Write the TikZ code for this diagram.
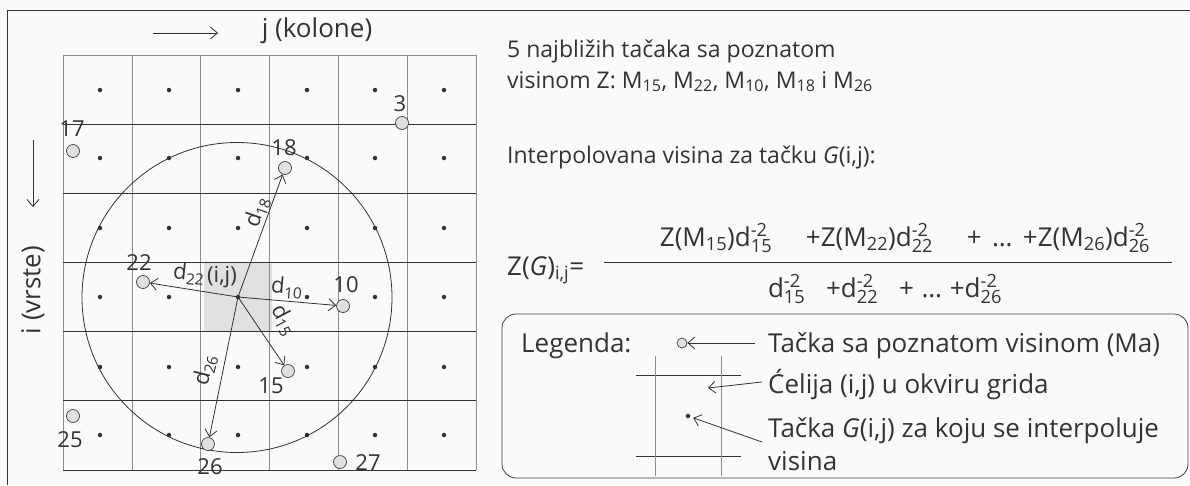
\documentclass[tikz,border=0pt]{standalone}
\usepackage{fontspec}
\setmainfont{Open Sans}
\usetikzlibrary{arrows.meta}
\makeatletter
\newcommand\sbx[1]{\ensuremath{_{\mbox{\fontsize{\sf@size}{0}\selectfont #1}}}}
\newcommand\dsx[2]{d\ensuremath{_{\mbox{\fontsize{\sf@size}{0}\selectfont #1}}^{\mbox{\fontsize{\sf@size}{0}\selectfont #2}}}}
\makeatother
\begin{document}
\begin{tikzpicture}[x=1pt,y=-1pt,
  txt/.style={font=\fontsize{26}{30}\selectfont, text=black!80, inner sep=0pt, anchor=base west},
  toptxt/.style={txt, font=\fontsize{23}{27}\selectfont},
  num/.style={font=\fontsize{22}{24}\selectfont, text=black!80, inner sep=0pt},
  dlab/.style={font=\fontsize{22}{24}\selectfont, text=black!80, inner sep=0pt},
  kp/.style={circle, draw=black!75, fill=black!12, line width=0.7pt, minimum size=13pt, inner sep=0pt},
  gdot/.style={circle, fill=black!80, minimum size=4.5pt, inner sep=0pt},
  arr/.style={-{Straight Barb[length=7pt,width=12pt]}, line width=0.8pt, draw=black!80},
  hline/.style={draw=black!80, line width=0.8pt},
  vline/.style={draw=black!45, line width=0.5pt}]
\useasboundingbox (0,0) rectangle (1190,485);
\fill[black!2] (0,0) rectangle (1190,485);
% outer frame
\draw[black!80, line width=0.8pt] (1190,10) -- (7,10) -- (7,485);
% shaded cell
\fill[black!12] (204,263) rectangle (272,332);
% grid
\foreach \x in {63,131.83,200.67,269.5,338.33,407.17,476} \draw[vline] (\x,55) -- (\x,470);
\draw[vline] (63,55) -- (476,55);
\foreach \y in {124.17,193.33,262.5,331.67,400.83,470} \draw[hline] (63,\y) -- (476,\y);
% dots
\foreach \x in {100,169,238,307,375,444}
  \foreach \y in {90,158,228,297,367,435}
    \node[gdot] at (\x,\y) {};
\coordinate (G) at (238,297);
% range circle
\draw[black!80, line width=0.8pt] (237,297.5) circle[radius=155pt];
% known points
\node[kp] (p3) at (402,123) {};
\node[kp] (p17) at (73,151) {};
\node[kp] (p18) at (285,168) {};
\node[kp] (p22) at (143,282) {};
\node[kp] (p10) at (343,306) {};
\node[kp] (p15) at (288,371) {};
\node[kp] (p25) at (73,416) {};
\node[kp] (p26) at (208,444) {};
\node[kp] (p27) at (340,462) {};
\node[num] (l3) at (400,104) {3};
\node[num] (l17) at (72,129) {17};
\node[num] (l18) at (284,148) {18};
\node[num] (l22) at (139,263) {22};
\node[num] (l10) at (346,285) {10};
\node[num] (l15) at (271,386) {15};
\node[num] (l25) at (70,440) {25};
\node[num] (l26) at (210,467) {26};
\node[num] (l27) at (368,463) {27};
% distance arrows
\draw[arr] (G) -- (p18);
\draw[arr] (G) -- (p22);
\draw[arr] (G) -- (p10);
\draw[arr] (G) -- (p15);
\draw[arr] (G) -- (p26);
\node[dlab, rotate=71] (d18) at (257,212) {d\sbx{18}};
\node[dlab, rotate=-6] (d22) at (189,274) {d\sbx{22}};
\node[dlab] (ij) at (222,277) {(i,j)};
\node[dlab, rotate=-5] (d10) at (287,288) {d\sbx{10}};
\node[dlab, rotate=-62] (d15) at (284,320) {d\sbx{15}};
\node[dlab, rotate=76] (d26) at (205,370) {d\sbx{26}};
% axes
\coordinate (ja) at (153,33);
\coordinate (jb) at (218,33);
\draw[arr] (ja) -- (jb);
\node[txt, anchor=center] (jlab) at (317,31) {j (kolone)};
\coordinate (ia) at (33,140);
\coordinate (ib) at (33,207);
\draw[arr] (ia) -- (ib);
\node[txt, anchor=center, rotate=90] (ilab) at (33,290) {i (vrste)};
% right text
\node[toptxt] (t1) at (507,57) {5 najbližih tačaka sa poznatom};
\node[toptxt] (t2) at (507,88) {visinom Z: M\sbx{15}, M\sbx{22}, M\sbx{10}, M\sbx{18} i M\sbx{26}};
\node[toptxt] (t3) at (507,163) {Interpolovana visina za tačku \textit{G}(i,j):};
% formula
\node[txt] (zg) at (507,275) {Z(\textit{G})\sbx{i,j}=};
\coordinate (fa) at (604,262);
\coordinate (fb) at (1172,262);
\draw[black!80, line width=0.8pt] (fa) -- (fb);
\node[txt, anchor=base] (numr) at (905,246) {Z(M\sbx{15})\dsx{15}{-2}\hspace{1.3em}+Z(M\sbx{22})\dsx{22}{-2}\hspace{1.3em}+\hspace{0.4em}\dots\hspace{0.4em}+Z(M\sbx{26})\dsx{26}{-2}};
\node[txt, anchor=base] (denr) at (885,297) {\dsx{15}{-2}\hspace{0.8em}+\dsx{22}{-2}\hspace{0.8em}+\hspace{0.3em}\dots\hspace{0.3em}+\dsx{26}{-2}};
% legend
\node[draw=black!75, line width=0.8pt, rounded corners=14pt, minimum width=686pt, minimum height=164pt] (leg) at (845,396) {};
\node[txt] (lg) at (521,352) {Legenda:};
\node[kp, minimum size=10pt] (lc) at (682,343) {};
\coordinate (lca) at (755,343);
\draw[arr] (lca) -- (lc);
\node[txt] (lt1) at (768,352) {Tačka sa poznatom visinom (Ma)};
\draw[hline] (636,375) -- (741,375);
\draw[hline] (636,456) -- (741,456);
\draw[vline] (655,356) -- (655,476);
\draw[vline] (721,356) -- (721,476);
\coordinate (cellpt) at (708,388);
\coordinate (cella) at (762,382);
\draw[arr] (cella) -- (cellpt);
\node[txt] (lt2) at (768,393) {Ćelija (i,j) u okviru grida};
\node[gdot] (ldot) at (688,416) {};
\coordinate (dota) at (762,442);
\draw[arr, shorten >=3pt] (dota) -- (ldot);
\node[txt] (lt3) at (768,437) {Tačka \textit{G}(i,j) za koju se interpoluje};
\node[txt] (lt4) at (768,470) {visina};
\end{tikzpicture}
\end{document}
